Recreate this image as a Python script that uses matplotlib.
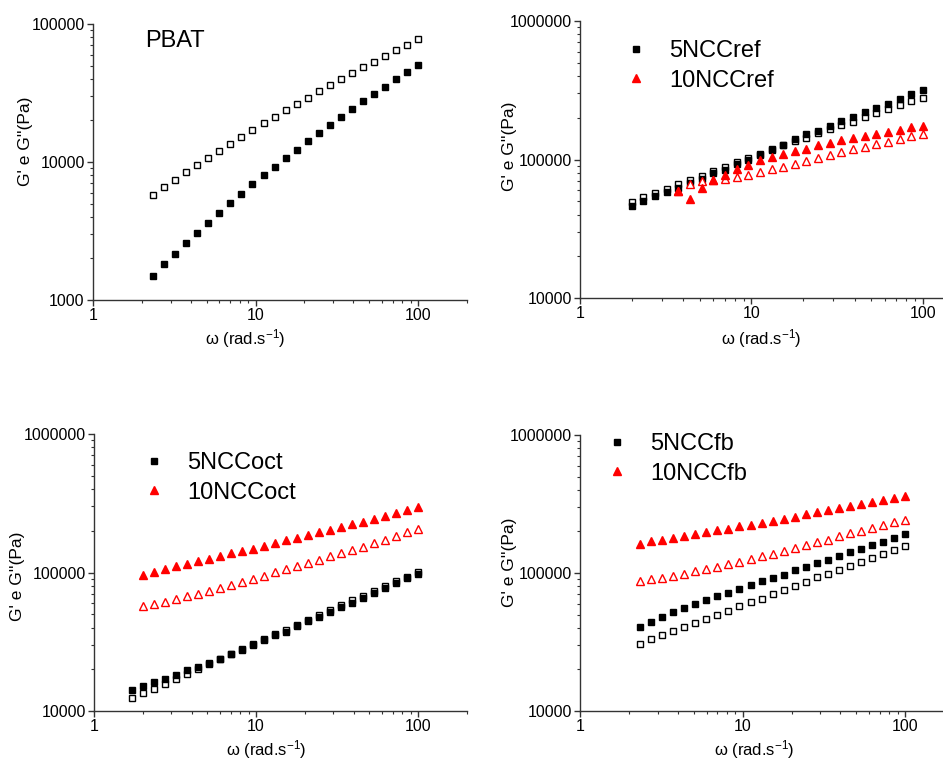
import numpy as np
import matplotlib
matplotlib.use("Agg")
import matplotlib.pyplot as plt
from matplotlib.ticker import LogLocator, NullFormatter

plt.rcParams['font.family'] = ['Liberation Sans', 'DejaVu Sans']
plt.rcParams['mathtext.fontset'] = 'custom'
plt.rcParams['mathtext.rm'] = 'Liberation Sans'
plt.rcParams['mathtext.it'] = 'Liberation Sans'

# frequency sweeps (rad/s)
w25 = [2.34, 2.74, 3.20, 3.75, 4.38, 5.12, 5.99, 7.00, 8.19, 9.57, 11.2, 13.1, 15.3,
       17.9, 20.9, 24.5, 28.6, 33.5, 39.1, 45.8, 53.5, 62.6, 73.1, 85.5, 100]
w26 = [2.00] + w25
w27 = [1.72] + w26

# PBAT
pbat_g1 = [1500, 1813, 2166, 2588, 3058, 3634, 4270, 5046, 5899, 6886, 8002, 9250, 10690,
           12280, 14200, 16220, 18540, 21190, 24210, 27520, 31110, 35160, 39730, 44890, 50460]
pbat_g2 = [5800, 6590, 7450, 8470, 9570, 10750, 12080, 13580, 15270, 17060, 19060, 21190, 23680,
           26320, 29250, 32510, 35940, 39930, 44150, 48530, 53330, 58630, 64440, 70830, 77420]

# 5NCCref / 10NCCref
ref5_g1 = [46240, 50240, 54330, 58740, 62760, 67780, 72480, 79650, 84650, 93560, 100000, 108100, 117400,
           127700, 140300, 151600, 161200, 173300, 188200, 203400, 218700, 235000, 252600, 274600, 295100, 317000]
ref5_g2 = [49430, 53720, 57420, 61700, 66310, 71680, 76210, 82800, 88480, 96150, 102300, 110500, 118200,
           126300, 135700, 144200, 154200, 164800, 176100, 187200, 201200, 215100, 231000, 247000, 264000, 279100]
w_ref10 = w25[3:]
ref10_g1 = [59360, 51650, 62760, 70900, 77070, 85150, 92010, 98900, 105100, 109900, 115500,
            120100, 126300, 132700, 138000, 144200, 147500, 152500, 157600, 163800, 170400, 174200]
ref10_g2 = [59360, 66310, 69700, 70900, 72480, 74920, 77890, 81900, 85150, 89000, 93560,
            98350, 102800, 108100, 114200, 118800, 123500, 129800, 134900, 140300, 147500, 152500]

# 5NCCoct / 10NCCoct
oct5_g1 = [14180, 15150, 16110, 17020, 18290, 19660, 20900, 22220, 23740, 25650, 27720, 30120, 32560, 35190,
           37390, 40840, 44380, 47990, 51560, 56050, 60220, 65800, 71500, 77300, 83510, 90780, 98080]
oct5_g2 = [12480, 13420, 14500, 15580, 17020, 18600, 20220, 21970, 23740, 25800, 27870, 30280, 32910, 35770,
           38650, 41780, 45390, 49090, 53330, 57940, 63280, 67650, 73940, 79890, 86840, 93330, 100800]
oct10_g1 = [95900, 101400, 106000, 110800, 115800, 121000, 125900, 130900, 137500, 143800, 148600, 155300, 163300,
            170700, 177500, 186600, 195000, 203900, 213100, 222700, 232800, 244800, 257200, 270400, 284300, 298800]
oct10_g2 = [57000, 58900, 61550, 64370, 67300, 70380, 73940, 77690, 81240, 85350, 90250, 94870, 100300,
            105400, 110800, 117100, 123100, 130900, 137500, 145300, 153700, 163300, 171700, 182400, 195000, 205000]

# 5NCCfb / 10NCCfb
fb5_g1 = [40550, 43830, 47880, 51780, 55660, 59490, 63590, 67970, 72250, 77230, 82550, 87280, 92250,
          97500, 104800, 111400, 117800, 125200, 132400, 141500, 150400, 159900, 169000, 179700, 192100]
fb5_g2 = [30530, 33020, 35480, 37930, 40740, 43340, 46580, 49790, 53230, 57210, 61160, 65370, 69890,
          75110, 80740, 86780, 93280, 99170, 106000, 112700, 121100, 129500, 138400, 147900, 157300]
fb10_g1 = [163500, 170000, 174800, 179700, 185800, 192100, 197500, 204200, 209900, 218300, 224400, 232000, 239900,
           246600, 256400, 266600, 275600, 285000, 294600, 306300, 316700, 327400, 336600, 350000, 361800]
fb10_g2 = [87750, 90250, 92750, 95930, 99170, 103100, 107200, 111400, 115800, 121100, 126600, 132400, 138400,
           144700, 152100, 159000, 167200, 174800, 184800, 194200, 203000, 212300, 222000, 233300, 243900]

RED = '#ff0000'
SQ = 5
TRI = 5.5


def style_axes(ax, xmax, ylo, yhi, yticks, ylab_xy, xlab_xy):
    ax.set_xscale('log')
    ax.set_yscale('log')
    ax.set_xlim(1, xmax)
    ax.set_ylim(ylo, yhi)
    for s in ['top', 'right']:
        ax.spines[s].set_visible(False)
    for s in ['left', 'bottom']:
        ax.spines[s].set_color('#333333')
        ax.spines[s].set_linewidth(1.0)
    ax.set_xticks([1, 10, 100])
    ax.set_xticklabels(['1', '10', '100'])
    ax.set_yticks(yticks)
    ax.set_yticklabels([str(t) for t in yticks])
    ax.xaxis.set_minor_locator(LogLocator(base=10, subs=np.arange(2, 10)))
    ax.yaxis.set_minor_locator(LogLocator(base=10, subs=np.arange(2, 10)))
    ax.xaxis.set_minor_formatter(NullFormatter())
    ax.yaxis.set_minor_formatter(NullFormatter())
    ax.tick_params(which='major', direction='out', length=4, width=1, color='#333333',
                   labelsize=11.5, pad=2)
    ax.tick_params(which='minor', direction='out', length=2, width=0.8, color='#333333')
    ax.set_ylabel("G' e G''(Pa)", fontsize=12.5)
    ax.yaxis.set_label_coords(*ylab_xy)
    ax.yaxis.label.set_va('center')
    ax.set_xlabel('ω (rad.s$^{-1}$)', fontsize=12)
    ax.xaxis.set_label_coords(*xlab_xy)
    ax.xaxis.label.set_va('center')


def legend(ax, x, y):
    ax.legend(loc='upper left', bbox_to_anchor=(x, y), frameon=False, fontsize=17,
              handlelength=1.0, handletextpad=0.9, labelspacing=0.32,
              borderpad=0, borderaxespad=0, numpoints=1)


fig = plt.figure(figsize=(9.43, 7.62), dpi=100)

ax1 = fig.add_axes([0.0986, 0.6063, 0.3966, 0.3622])
ax1.plot(w25, pbat_g2, 's', ms=SQ, mfc='white', mec='black', mew=1)
ax1.plot(w25, pbat_g1, 's', ms=SQ, color='black')
ax1.text(0.139, 0.917, 'PBAT', transform=ax1.transAxes, fontsize=17, va='baseline')
style_axes(ax1, 200, 1000, 100000, [1000, 10000, 100000], (-0.18, 0.576), (0.406, -0.14))

ax2 = fig.add_axes([0.6151, 0.6089, 0.3849, 0.3635])
ax2.plot(w26, ref5_g2, 's', ms=SQ, mfc='white', mec='black', mew=1)
ax2.plot(w26, ref5_g1, 's', ms=SQ, color='black', label='5NCCref')
ax2.plot(w_ref10, ref10_g2, '^', ms=TRI, mfc='white', mec=RED, mew=1)
ax2.plot(w_ref10, ref10_g1, '^', ms=TRI, color=RED, label='10NCCref')
style_axes(ax2, 131, 10000, 1000000, [10000, 100000, 1000000], (-0.193, 0.549), (0.499, -0.145))
legend(ax2, 0.121, 0.931)

ax3 = fig.add_axes([0.0997, 0.0669, 0.3955, 0.3635])
ax3.plot(w27, oct5_g2, 's', ms=SQ, mfc='white', mec='black', mew=1)
ax3.plot(w27, oct5_g1, 's', ms=SQ, color='black', label='5NCCoct')
ax3.plot(w26, oct10_g2, '^', ms=TRI, mfc='white', mec=RED, mew=1)
ax3.plot(w26, oct10_g1, '^', ms=TRI, color=RED, label='10NCCoct')
style_axes(ax3, 200, 10000, 1000000, [10000, 100000, 1000000], (-0.204, 0.487), (0.463, -0.14))
legend(ax3, 0.129, 0.935)

ax4 = fig.add_axes([0.6151, 0.0669, 0.3849, 0.3622])
ax4.plot(w25, fb5_g2, 's', ms=SQ, mfc='white', mec='black', mew=1)
ax4.plot(w25, fb5_g1, 's', ms=SQ, color='black', label='5NCCfb')
ax4.plot(w25, fb10_g2, '^', ms=TRI, mfc='white', mec=RED, mew=1)
ax4.plot(w25, fb10_g1, '^', ms=TRI, color=RED, label='10NCCfb')
style_axes(ax4, 171, 10000, 1000000, [10000, 100000, 1000000], (-0.193, 0.54), (0.48, -0.14))
legend(ax4, 0.069, 1.007)

fig.savefig('out.png', dpi=100)
